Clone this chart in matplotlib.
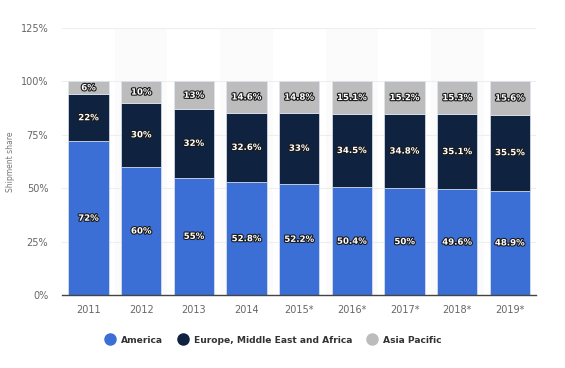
import matplotlib.pyplot as plt
import matplotlib.patheffects as pe
from matplotlib.lines import Line2D

years = ['2011', '2012', '2013', '2014', '2015*', '2016*', '2017*', '2018*', '2019*']
america = [72, 60, 55, 52.8, 52.2, 50.4, 50, 49.6, 48.9]
emea = [22, 30, 32, 32.6, 33, 34.5, 34.8, 35.1, 35.5]
apac = [6, 10, 13, 14.6, 14.8, 15.1, 15.2, 15.3, 15.6]

series = [
    ('America', america, '#3c6fd6'),
    ('Europe, Middle East and Africa', emea, '#0f2340'),
    ('Asia Pacific', apac, '#bcbcbc'),
]

def fmt(v):
    return f"{v:g}%"

fig = plt.figure(figsize=(5.65, 3.68), dpi=100)
ax = fig.add_axes([0.110, 0.198, 0.839, 0.726])

x = list(range(len(years)))

# faint alternating column bands
for i in x:
    if i % 2 == 1:
        ax.axvspan(i - 0.5, i + 0.5, color='#fbfbfb', zorder=0, lw=0)

bottom = [0] * len(years)
outline = [pe.withStroke(linewidth=1.6, foreground='#1a1a1a')]
for name, vals, col in series:
    ax.bar(x, vals, bottom=bottom, width=0.76, color=col,
           edgecolor='#dfe6f2', linewidth=0.5, zorder=2)
    for i, v in enumerate(vals):
        ax.text(i, bottom[i] + v / 2, fmt(v), ha='center', va='center',
                fontsize=6.2, fontweight='bold', color='white',
                path_effects=outline, zorder=4)
    bottom = [b + v for b, v in zip(bottom, vals)]

ax.set_xlim(-0.5, len(years) - 0.5)
ax.set_ylim(0, 125)
ax.set_yticks([0, 25, 50, 75, 100, 125])
ax.set_yticklabels(['0%', '25%', '50%', '75%', '100%', '125%'])
ax.set_xticks(x)
ax.set_xticklabels(years)
ax.tick_params(axis='both', length=0, labelsize=7, colors='#666666')
ax.tick_params(axis='x', pad=7)
ax.tick_params(axis='y', pad=10)
ax.yaxis.grid(True, color='#eeeeee', linewidth=0.8, zorder=1)
ax.set_axisbelow(True)
for s in ['top', 'right', 'left']:
    ax.spines[s].set_visible(False)
ax.spines['bottom'].set_color('#444444')
ax.spines['bottom'].set_linewidth(1)
ax.set_ylabel('Shipment share', fontsize=5.5, color='#777777', labelpad=4)

handles = [Line2D([0], [0], marker='o', linestyle='', markersize=8,
                  markerfacecolor=col, markeredgecolor=col) for _, _, col in series]
fig.legend(handles, [s[0] for s in series], loc='center', bbox_to_anchor=(0.48, 0.076),
           ncol=3, frameon=False, prop={'size': 6.6, 'weight': 'bold'},
           labelcolor='#333333', handletextpad=0.2, columnspacing=1.2)

plt.savefig('out.png', dpi=100)
